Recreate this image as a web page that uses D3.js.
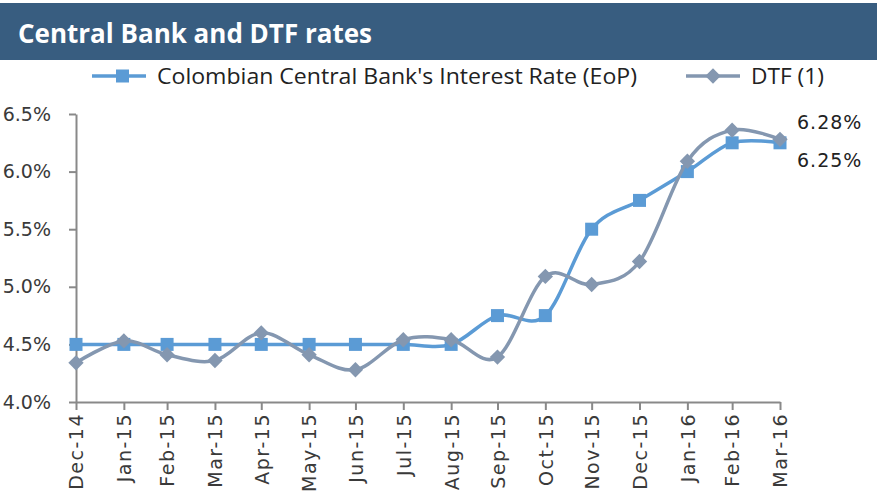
<!DOCTYPE html>
<html>
<head>
<meta charset="utf-8">
<script src="https://cdn.jsdelivr.net/npm/d3@7"></script>
<style>
  body { margin: 0; background: #fff; }
  svg { display: block; }
</style>
</head>
<body>
<svg id="chart"></svg>
<script>
// month-end dates (date axis, so spacing follows days in month)
let months = ["2014-12-31", "2015-01-31", "2015-02-28", "2015-03-31", "2015-04-30", "2015-05-31",
  "2015-06-30", "2015-07-31", "2015-08-31", "2015-09-30", "2015-10-31", "2015-11-30",
  "2015-12-31", "2016-01-31", "2016-02-29", "2016-03-31"];
let centralBank = [4.5, 4.5, 4.5, 4.5, 4.5, 4.5, 4.5, 4.5, 4.5, 4.75, 4.75, 5.5, 5.75, 6.0, 6.25, 6.25];
let dtf = [4.34, 4.53, 4.41, 4.36, 4.60, 4.41, 4.28, 4.54, 4.54, 4.39, 5.09, 5.02, 5.22, 6.09, 6.36, 6.28];
let yTicks = [4.0, 4.5, 5.0, 5.5, 6.0, 6.5];
let seriesNames = ["Colombian Central Bank's Interest Rate (EoP)", "DTF (1)"];

function makeChart() {
  let w = 877;
  let h = 497;

  let marginT = 114;
  let marginL = 76;
  let marginR = 97;
  let marginB = 95;

  let parse = d3.timeParse("%Y-%m-%d");
  let dates = months.map(parse);

  let chart = d3.select('#chart')
    .attr('width', w)
    .attr('height', h);

  let xScale = d3.scaleTime()
    .domain([dates[0], dates[dates.length - 1]])
    .range([marginL, w - marginR]);

  let yScale = d3.scaleLinear()
    .domain([4, 6.5])
    .range([h - marginB, marginT]);

  //title bar
  chart.append('rect')
    .attr('x', 0)
    .attr('y', 3)
    .attr('width', w)
    .attr('height', 57)
    .attr('fill', '#385d80');

  chart.append('text')
    .attr('x', 18)
    .attr('y', 43)
    .attr('fill', '#fff')
    .style('font-family', 'Open Sans, sans-serif')
    .style('font-weight', 'bold')
    .style('font-size', '26px')
    .attr('textLength', 354)
    .attr('lengthAdjust', 'spacingAndGlyphs')
    .text("Central Bank and DTF rates");

  //AXES
  let xAxis = d3.axisBottom(xScale)
    .tickValues(dates)
    .tickSize(8)
    .tickSizeOuter(0)
    .tickFormat(d3.timeFormat("%b-%y"));

  let yAxis = d3.axisLeft(yScale)
    .tickValues(yTicks)
    .tickSize(7)
    .tickSizeOuter(0)
    .tickFormat(d => d.toFixed(1) + "%");

  let gx = chart.append('g')
    .attr('transform', `translate(0, ${h - marginB})`)
    .call(xAxis);

  gx.selectAll('text')
    .attr('transform', 'rotate(-90)')
    .attr('x', -11)
    .attr('y', 0)
    .attr('dy', '0.36em')
    .style('text-anchor', 'end')
    .style('letter-spacing', '1.5px');

  let gy = chart.append('g')
    .attr('transform', `translate(${marginL}, 0)`)
    .call(yAxis);

  gy.selectAll('text')
    .attr('x', -25);

  chart.selectAll('.domain, .tick line')
    .attr('stroke', '#898989')
    .attr('stroke-width', 2);

  chart.selectAll('.tick text')
    .attr('fill', '#3a3a3a')
    .style('font-family', 'DejaVu Sans, sans-serif')
    .style('font-size', '19px');

  //LINES
  let colors = ['#5b9bd5', '#8497b0'];
  let allSeries = [centralBank, dtf];

  let line = d3.line()
    .x((d, i) => xScale(dates[i]))
    .y(d => yScale(d))
    .curve(d3.curveCardinal.tension(0));

  let diamond = d3.symbol().type(d3.symbolDiamond2).size(150);

  allSeries.forEach(function (vals, s) {
    chart.append('path')
      .datum(vals)
      .attr('d', line)
      .attr('fill', 'none')
      .attr('stroke', colors[s])
      .attr('stroke-width', 3.5);

    if (s == 0) {
      chart.selectAll('rect.cb')
        .data(vals)
        .enter()
        .append('rect')
        .attr('class', 'cb')
        .attr('x', (d, i) => xScale(dates[i]) - 6.5)
        .attr('y', d => yScale(d) - 6.5)
        .attr('width', 13)
        .attr('height', 13)
        .attr('fill', colors[s]);
    } else {
      chart.selectAll('path.dtf')
        .data(vals)
        .enter()
        .append('path')
        .attr('class', 'dtf')
        .attr('d', diamond)
        .attr('transform', (d, i) => `translate(${xScale(dates[i])}, ${yScale(d)})`)
        .attr('fill', colors[s]);
    }
  });

  //data labels on the last point
  let last = dates.length - 1;
  let lbl = [
    { v: dtf[last], dy: -17 },
    { v: centralBank[last], dy: 17 }
  ];
  chart.selectAll('text.lbl')
    .data(lbl)
    .enter()
    .append('text')
    .attr('class', 'lbl')
    .attr('x', xScale(dates[last]) + 17)
    .attr('y', d => yScale(d.v) + d.dy)
    .attr('dy', '0.36em')
    .attr('fill', '#222')
    .style('font-family', 'DejaVu Sans, sans-serif')
    .style('font-size', '19px')
    .style('letter-spacing', '1px')
    .text(d => d.v.toFixed(2) + "%");

  //LEGEND
  let legend = [
    { name: seriesNames[0], x: 92, len: 480 },
    { name: seriesNames[1], x: 686, len: 73 }
  ];
  legend.forEach(function (d, i) {
    let g = chart.append('g').attr('transform', `translate(${d.x}, 76)`);
    g.append('line')
      .attr('x1', 0).attr('x2', 54)
      .attr('stroke', colors[i])
      .attr('stroke-width', 3.5);
    if (i == 0) {
      g.append('rect')
        .attr('x', 24).attr('y', -6.5)
        .attr('width', 13).attr('height', 13)
        .attr('fill', colors[i]);
    } else {
      g.append('path')
        .attr('d', diamond)
        .attr('transform', 'translate(27, 0)')
        .attr('fill', colors[i]);
    }
    g.append('text')
      .attr('x', 65)
      .attr('y', 0)
      .attr('dy', '0.36em')
      .attr('fill', '#222')
      .style('font-family', 'Open Sans, sans-serif')
      .style('font-size', '21px')
      .attr('textLength', d.len)
      .attr('lengthAdjust', 'spacingAndGlyphs')
      .text(d.name);
  });
}

window.onload = function () {
  makeChart();
}
</script>
</body>
</html>
